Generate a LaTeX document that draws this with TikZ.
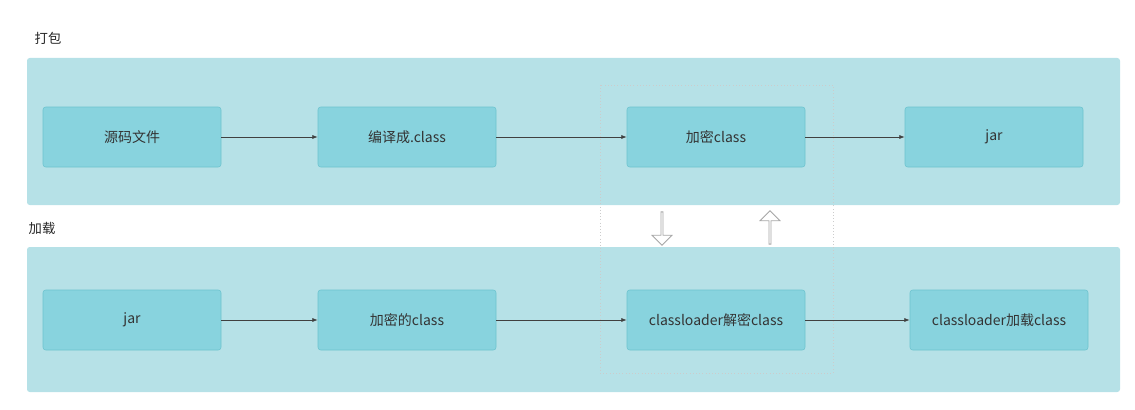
\documentclass[tikz,border=0pt]{standalone}
\usepackage{fontspec}
\setmainfont{Liberation Sans}
\newfontfamily\cjk{Noto Sans CJK SC}
\usetikzlibrary{arrows.meta,shapes.arrows}
\definecolor{panelbg}{HTML}{B6E1E7}
\definecolor{boxbg}{HTML}{88D3DE}
\definecolor{boxline}{HTML}{6CC3CE}
\begin{document}
\begin{tikzpicture}[x=0.75pt,y=-0.75pt,
	panel/.style={fill=panelbg, draw=none, rounded corners=2pt},
	box/.style={draw=boxline, fill=boxbg, rounded corners=2pt, minimum width=133.5pt, minimum height=45pt, inner sep=1pt, font=\cjk\fontsize{10.5}{12}\selectfont, text=black!80},
	title/.style={font=\cjk\fontsize{10}{12}\selectfont, text=black!85},
	connect/.style={-{Latex[length=4pt,width=3pt]}, draw=black!75, line width=0.5pt},
	hollow/.style={single arrow, draw=black!35, fill=white, minimum height=25pt, minimum width=15pt, single arrow head extend=2.5pt, inner sep=0pt, line width=0.6pt},
	]
	\useasboundingbox (0,0) rectangle (1135,410);
	
	%-----------------------
	% Panels
	%-----------------------
	\node[title, anchor=west] (tpack) at (30,38) {打包};
	\node[title, anchor=west] (tload) at (24,228) {加载};
	\fill[panelbg, rounded corners=2pt] (27,58) rectangle (1120,205);
	\fill[panelbg, rounded corners=2pt] (27,247) rectangle (1120,392);
	\draw[dotted, draw=black!20] (600,85) rectangle (833,373);
	
	%-----------------------
	% Row 1: packing
	%-----------------------
	\node[box] (src) at (132,137) {源码文件};
	\node[box] (comp) at (407,137) {编译成.class};
	\node[box] (enc) at (716,137) {加密class};
	\node[box] (jar1) at (994,137) {jar};
	
	%-----------------------
	% Row 2: loading
	%-----------------------
	\node[box] (jar2) at (132,320) {jar};
	\node[box] (encc) at (407,320) {加密的class};
	\node[box] (dec) at (716,320) {classloader解密class};
	\node[box] (load) at (999,320) {classloader加载class};
	
	%-----------------------
	% Connections
	%-----------------------
	\draw[connect] (src) -- (comp);
	\draw[connect] (comp) -- (enc);
	\draw[connect] (enc) -- (jar1);
	
	\draw[connect] (jar2) -- (encc);
	\draw[connect] (encc) -- (dec);
	\draw[connect] (dec) -- (load);
	
	% hollow arrows
	\node[hollow, rotate=-90] (down) at (662,228) {};
	\node[hollow, rotate=90] (up) at (770,228) {};
	
\end{tikzpicture}
\end{document}
